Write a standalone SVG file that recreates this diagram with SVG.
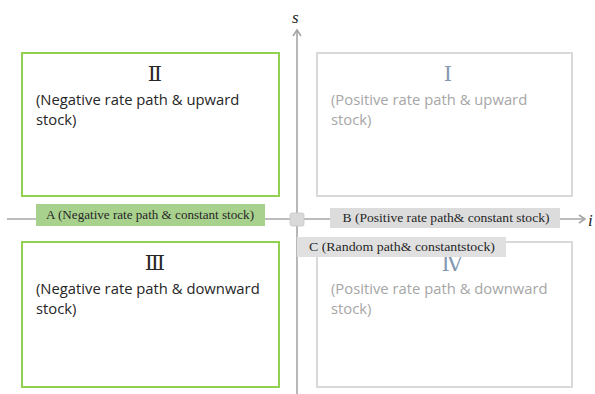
<svg xmlns="http://www.w3.org/2000/svg" width="595" height="394" viewBox="0 0 595 394">
  <style>
    .box { fill: #ffffff; stroke-width: 2; }
    .neg { stroke: #92d050; }
    .pos { stroke: #d9d9d9; }
    .roman { font-family: "DejaVu Serif", "Liberation Serif", serif; font-size: 21px; text-anchor: middle; }
    .body { font-family: "Open Sans", "Liberation Sans", sans-serif; font-size: 14.8px; }
    .dark { fill: #262626; }
    .light { fill: #a6a6a6; }
    .tag { font-family: "Liberation Serif", "DejaVu Serif", serif; font-size: 12px; fill: #262626; }
    .axis { stroke: #a6a6a6; stroke-width: 1.6; fill: none; }
    .axlabel { font-family: "Liberation Serif", serif; font-style: italic; font-size: 17px; fill: #1f1f1f; }
  </style>
  <defs>
    <marker id="arrow" markerWidth="10" markerHeight="10" refX="7" refY="5" orient="auto" markerUnits="userSpaceOnUse">
      <path d="M1,1 L7,5 L1,9" fill="none" stroke="#a6a6a6" stroke-width="1.6"/>
    </marker>
  </defs>

  <!-- quadrants -->
  <g id="quadrant-II">
    <rect class="box neg" x="22" y="53" width="257" height="143"/>
    <text class="roman dark" x="155" y="81">Ⅱ</text>
    <text class="body dark" x="36" y="105">(Negative rate path &amp; upward</text>
    <text class="body dark" x="36" y="125">stock)</text>
  </g>
  <g id="quadrant-I">
    <rect class="box pos" x="317" y="53" width="255" height="143"/>
    <text class="roman" x="448" y="81" fill="#8497b0">Ⅰ</text>
    <text class="body light" x="331" y="105">(Positive rate path &amp; upward</text>
    <text class="body light" x="331" y="125">stock)</text>
  </g>
  <g id="quadrant-III">
    <rect class="box neg" x="22" y="242" width="257" height="145"/>
    <text class="roman dark" x="155" y="270">Ⅲ</text>
    <text class="body dark" x="36" y="294">(Negative rate path &amp; downward</text>
    <text class="body dark" x="36" y="314">stock)</text>
  </g>
  <g id="quadrant-IV">
    <rect class="box pos" x="317" y="242" width="255" height="145"/>
    <text class="roman" x="452" y="271" fill="#8497b0">Ⅳ</text>
    <text class="body light" x="331" y="294">(Positive rate path &amp; downward</text>
    <text class="body light" x="331" y="314">stock)</text>
  </g>

  <!-- axes -->
  <g id="connectors">
    <line class="axis" x1="297" y1="394" x2="297" y2="30" marker-end="url(#arrow)"/>
    <line class="axis" x1="7" y1="219" x2="585" y2="219" marker-end="url(#arrow)"/>
  </g>
  <text class="axlabel" x="292" y="23">s</text>
  <text class="axlabel" x="588" y="226">i</text>

  <!-- origin -->
  <g id="origin">
    <rect x="290" y="213" width="14" height="13" rx="2" fill="#d9d9d9" stroke="#c8c8c8" stroke-width="0.8"/>
  </g>

  <!-- boundary cases -->
  <g id="case-A">
    <rect x="36" y="204" width="229" height="22" fill="#a9d18e"/>
    <text class="tag" x="150" y="219" text-anchor="middle" textLength="208" lengthAdjust="spacingAndGlyphs">A (Negative rate path &amp; constant stock)</text>
  </g>
  <g id="case-B">
    <rect x="330" y="208" width="230" height="20" fill="#dcdcdc"/>
    <text class="tag" x="446" y="222" text-anchor="middle" textLength="207" lengthAdjust="spacingAndGlyphs">B (Positive rate path&amp; constant stock)</text>
  </g>
  <g id="case-C">
    <rect x="297" y="237" width="209" height="20" fill="#e0e0e0"/>
    <text class="tag" x="402" y="251" text-anchor="middle" textLength="186" lengthAdjust="spacingAndGlyphs">C (Random path&amp; constantstock)</text>
  </g>
</svg>
